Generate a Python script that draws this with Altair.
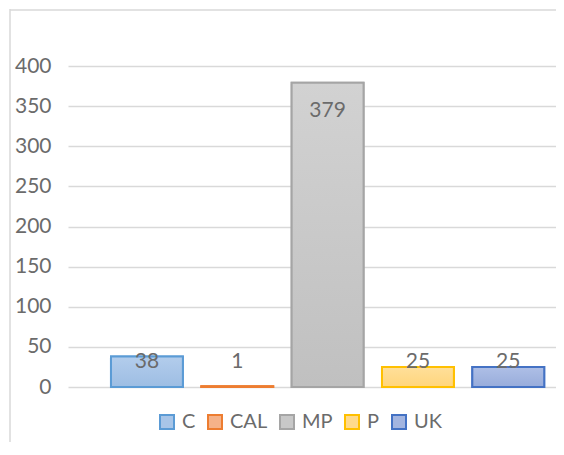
import altair as alt
import pandas as pd

categories = ["C", "CAL", "MP", "P", "UK"]
values = [38, 1, 379, 25, 25]

stroke_colors = ["#5b9bd5", "#ed7d31", "#a5a5a5", "#ffc000", "#4472c4"]
fill_top = ["#b3cdec", "#f7bc98", "#d2d2d2", "#ffdf9a", "#aebfe6"]
fill_bottom = ["#9dbde3", "#f3a87a", "#c0c0c0", "#ffd57c", "#98acdb"]
legend_fill = ["#a8c5e8", "#f5b289", "#c8c8c8", "#ffda8b", "#a3b5e0"]

df = pd.DataFrame({"cat": categories, "value": values})

W, H = 488, 321
PAD = {"left": 60, "top": 58, "right": 0, "bottom": 55}
FONT = "Lato"
TXT = "#6b6b6b"

x_enc = alt.X("cat:N", sort=categories, axis=None,
              scale=alt.Scale(domain=categories, paddingInner=0.204,
                              paddingOuter=0.303, align=0.785))
y_scale = alt.Scale(domain=[0, 400], nice=False)

base = alt.Chart(df)

legend_layer = base.mark_bar(strokeWidth=2).encode(
    x=x_enc,
    y=alt.Y("value:Q", scale=y_scale,
            axis=alt.Axis(values=[0, 50, 100, 150, 200, 250, 300, 350, 400],
                          title=None, domain=False, ticks=False,
                          labelPadding=17, labelFont=FONT, labelFontSize=21,
                          labelColor=TXT, gridColor="#d9d9d9", gridWidth=1.5)),
    fill=alt.Fill("cat:N", sort=categories,
                  scale=alt.Scale(domain=categories, range=legend_fill),
                  legend=alt.Legend(title=None)),
    stroke=alt.Stroke("cat:N", sort=categories,
                      scale=alt.Scale(domain=categories, range=stroke_colors),
                      legend=alt.Legend(title=None)),
)

layers = [legend_layer]
for c, sc, ft, fb in zip(categories, stroke_colors, fill_top, fill_bottom):
    grad = alt.Gradient(
        gradient="linear",
        stops=[alt.GradientStop(color=ft, offset=0),
               alt.GradientStop(color=fb, offset=1)],
        x1=0, x2=0, y1=0, y2=1,
    )
    layers.append(
        base.transform_filter(alt.datum.cat == c).mark_bar(
            fill=grad, stroke=sc, strokeWidth=2
        ).encode(x=x_enc, y=alt.Y("value:Q", scale=y_scale))
    )

labels = base.transform_calculate(
    label_y="max(datum.value - 34.5, 31.2)"
).mark_text(baseline="middle", align="center", font=FONT, fontSize=21,
            color=TXT).encode(
    x=x_enc,
    y=alt.Y("label_y:Q", scale=y_scale),
    text=alt.Text("value:Q"),
)
layers.append(labels)

frame_left = alt.Chart(pd.DataFrame({"a": [0]})).mark_rule(
    color="#d9d9d9", strokeWidth=1.5
).encode(x=alt.value(-58), x2=alt.value(-58),
         y=alt.value(-57), y2=alt.value(H + PAD["bottom"]))
frame_top = alt.Chart(pd.DataFrame({"b": [0]})).mark_rule(
    color="#d9d9d9", strokeWidth=1.5
).encode(x=alt.value(-58), x2=alt.value(W),
         y=alt.value(-56), y2=alt.value(-56))
layers += [frame_left, frame_top]

chart = alt.layer(*layers).properties(
    width=W, height=H,
    autosize=alt.AutoSizeParams(type="none"),
    padding=PAD,
).configure_view(stroke=None).configure_legend(
    orient="none", direction="horizontal", legendX=89, legendY=346,
    symbolType="square", symbolSize=196, symbolStrokeWidth=2,
    labelFont=FONT, labelFontSize=20, labelColor=TXT, labelOffset=5,
    columnPadding=8, padding=0,
)

chart.save("out.html", embed_options={"renderer": "svg", "actions": False})
